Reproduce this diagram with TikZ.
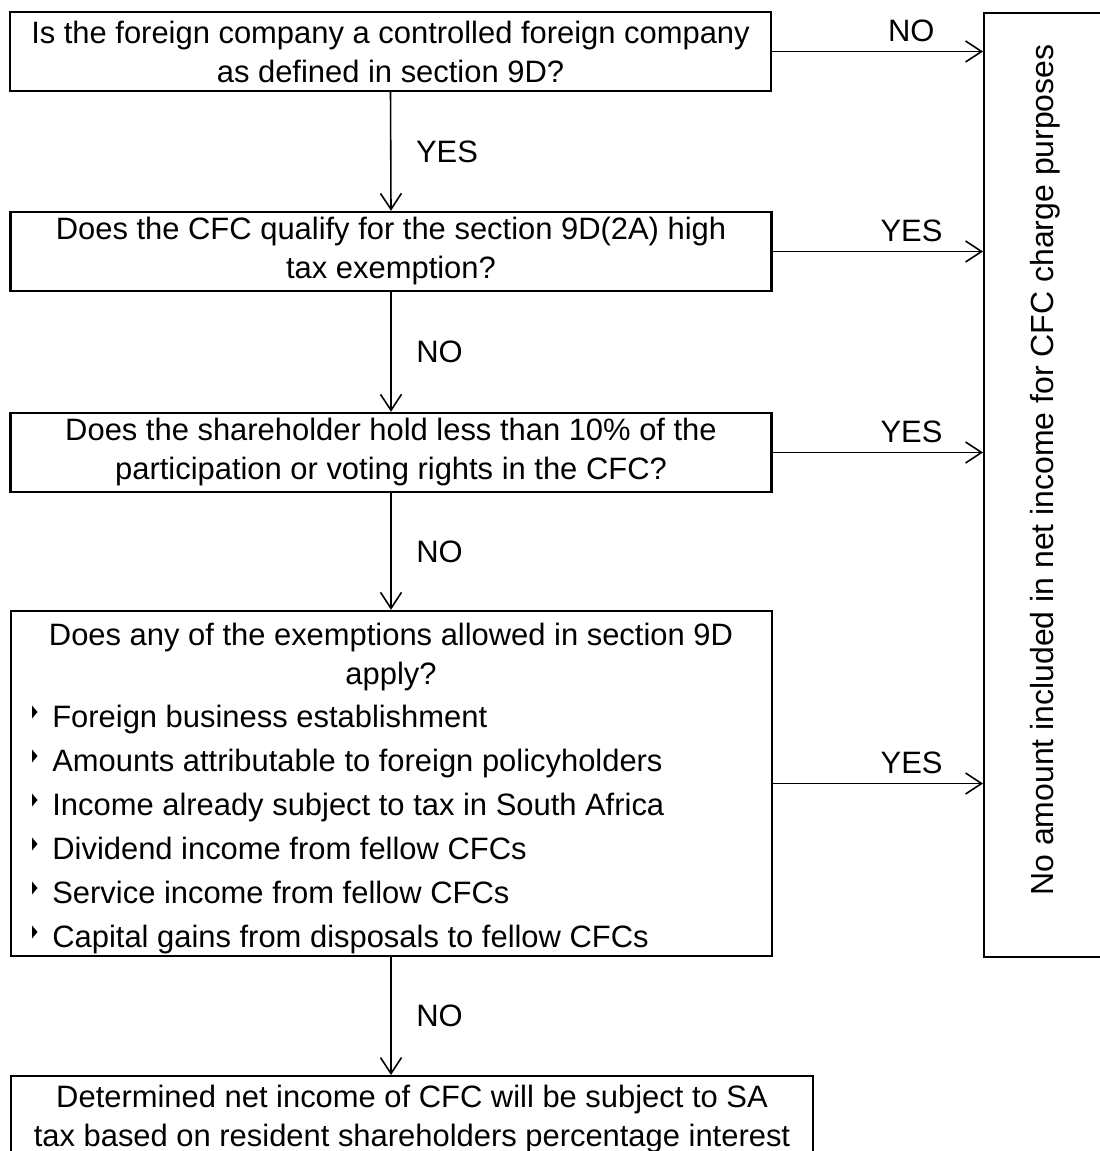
\documentclass[tikz,border=0pt]{standalone}
\usepackage{fontspec}
\setmainfont{Liberation Sans}
\usetikzlibrary{arrows.meta,positioning}
\tikzset{
	box/.style={draw,line width=1.4pt,inner sep=0pt,align=center,minimum width=15.22cm,minimum height=1.58cm,font=\fontsize{17.6pt}{22.2pt}\selectfont},
	txt/.style={inner sep=0pt,font=\fontsize{17.6pt}{22.2pt}\selectfont},
	arr/.style={line width=.9pt,-{Straight Barb[length=.32cm,width=.42cm,line width=.9pt]}},
	lbl/.style={inner sep=2pt,font=\fontsize{17.6pt}{20pt}\selectfont}
}
\begin{document}
\begin{tikzpicture}[x=.02cm,y=-.02cm]
	\useasboundingbox (0,0) rectangle (1099,1151);
	% questions
	\node[box] (q1) at (390.5,51.5) {Is the foreign company a controlled foreign company\\as defined in section 9D?};
	\node[box] (q2) at (391,251.5) {Does the CFC qualify for the section 9D(2A) high\\tax exemption?};
	\node[box] (q3) at (391,452.5) {Does the shareholder hold less than 10\% of the\\participation or voting rights in the CFC?};
	\node[box,minimum height=6.9cm] (q4) at (391.5,783.5) {};
	\node[box,minimum width=16.04cm,minimum height=2cm,anchor=north] (q5) at (412,1075) {};
	\node[txt,align=center] (q5txt) at (412,1119) {Determined net income of CFC will be subject to SA\\tax based on resident shareholders percentage interest};
	% result box on the right
	\node[draw,line width=1.4pt,inner sep=0pt,anchor=north west,minimum width=2.8cm,minimum height=18.88cm] (res) at (983,12) {};
	\node[txt,rotate=90,font=\fontsize{18.2pt}{22pt}\selectfont] (restxt) at (1045,470) {No amount included in net income for CFC charge purposes};
	% exemptions
	\node[txt,align=center] (q4head) at (391,657) {Does any of the exemptions allowed in section 9D\\apply?};
	\foreach \t [count=\i] in {Foreign business establishment,Amounts attributable to foreign policyholders,Income already subject to tax in South Africa,Dividend income from fellow CFCs,Service income from fellow CFCs,Capital gains from disposals to fellow CFCs}{
		\pgfmathsetmacro\yy{727+44*(\i-1)}
		\fill (32,\yy-21.5)--(37.5,\yy-15)--(32,\yy-8.5)--cycle;
		\node[txt,anchor=base west] (ex\i) at (52,\yy) {\t};
	}
	% downward arrows
	\draw[arr] (q1.south) -- (q2.north) node[lbl,midway,right=.42cm] {YES};
	\draw[arr] (q2.south) -- (q3.north) node[lbl,midway,right=.42cm] {NO};
	\draw[arr] (q3.south) -- (q3.south|-q4.north) node[lbl,midway,right=.42cm] {NO};
	\draw[arr] (q3.south|-q4.south) -- (q3.south|-q5.north) node[lbl,midway,right=.42cm] {NO};
	% arrows to the right
	\foreach \q/\a in {q1/NO,q2/YES,q3/YES,q4/YES}
		\draw[arr] (\q.east) -- (\q.east-|res.west) node[lbl,pos=.66,above=3pt] {\a};
\end{tikzpicture}
\end{document}
